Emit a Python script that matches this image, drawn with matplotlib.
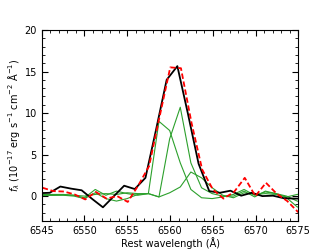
import matplotlib
matplotlib.use('Agg')
import matplotlib.pyplot as plt
from matplotlib.ticker import MultipleLocator
import numpy as np

# observed spectrum (black)
wave_obs = [6544.70, 6545.94, 6547.18, 6548.43, 6549.67, 6550.91, 6552.16, 6553.40,
            6554.64, 6555.88, 6557.13, 6558.37, 6559.61, 6560.86, 6562.10, 6563.34,
            6564.59, 6565.83, 6567.07, 6568.32, 6569.56, 6570.80, 6572.04, 6573.29,
            6574.53, 6575.77]
flux_obs = [0.35, 0.4, 1.15, 0.9, 0.7, -0.35, -1.35, -0.05,
            1.25, 0.85, 2.2, 8.0, 14.0, 15.65, 9.9, 3.9,
            0.6, 0.4, 0.65, 0.05, 0.4, 0.0, 0.05, -0.25,
            -0.3, -0.3]

# model (red dashed)
wave_mod = [6545.12, 6546.36, 6547.60, 6548.85, 6550.09, 6551.33, 6552.58, 6553.82,
            6555.06, 6556.30, 6557.55, 6558.79, 6560.03, 6561.28, 6562.52, 6563.76,
            6565.01, 6566.25, 6567.49, 6568.74, 6569.98, 6571.22, 6572.46, 6573.71,
            6574.95, 6576.19]
flux_mod = [1.0, 0.6, 0.55, 0.2, -0.4, 0.5, -0.3, 0.0,
            -0.7, 1.3, 3.6, 9.6, 15.5, 15.4, 8.8, 3.2,
            0.8, -0.3, 0.5, 2.2, 0.0, 1.6, 0.3, -0.6,
            -1.9, -2.3]

# individual components (green)
wave_cmp = [6545.04, 6546.28, 6547.53, 6548.77, 6550.01, 6551.26, 6552.50, 6553.74,
            6554.99, 6556.23, 6557.47, 6558.71, 6559.96, 6561.20, 6562.44, 6563.69,
            6564.93, 6566.17, 6567.42, 6568.66, 6569.90, 6571.15, 6572.39, 6573.63,
            6574.87, 6576.12]
comp_a = [0.2, 0.2, 0.2, 0.1, -0.2, 0.8, 0.1, 0.6,
          0.3, 0.1, 0.3, 9.0, 7.9, 4.0, 0.8, -0.2,
          -0.3, -0.1, 0.2, 0.8, 0.1, 0.5, 0.3, -0.2,
          -1.3, -1.6]
comp_b = [0.1, 0.1, 0.1, 0.0, -0.3, 0.4, -0.3, -0.6,
          -0.3, 0.2, 0.3, -0.1, 6.9, 10.7, 4.0, 1.0,
          0.3, 0.0, 0.0, 0.6, -0.1, 0.6, 0.3, 0.0,
          -0.6, -0.9]
comp_c = [0.1, 0.1, 0.15, 0.1, 0.0, 0.2, 0.3, 0.2,
          0.4, 0.3, 0.3, -0.1, 0.4, 1.1, 2.9, 2.2,
          1.0, 0.1, -0.2, 0.4, 0.2, 0.3, 0.2, -0.1,
          0.2, 0.3]

fig = plt.figure(figsize=(3.32, 2.49), dpi=100)
ax = fig.add_axes([0.1256, 0.1124, 0.7729, 0.7671])

for c in (comp_a, comp_b, comp_c):
    ax.plot(wave_cmp, c, color='#2ca02c', lw=0.8)
ax.plot(wave_obs, flux_obs, color='black', lw=1.3)
ax.plot(wave_mod, flux_mod, color='red', lw=1.3, ls=(0, (3, 1.5)))

ax.set_xlim(6545, 6575)
ax.set_ylim(-3, 20)
ax.xaxis.set_major_locator(MultipleLocator(5))
ax.xaxis.set_minor_locator(MultipleLocator(1))
ax.yaxis.set_major_locator(MultipleLocator(5))
ax.yaxis.set_minor_locator(MultipleLocator(1))
ax.tick_params(which='both', direction='in', top=True, right=True, labelsize=7)
ax.tick_params(which='major', length=4)
ax.tick_params(which='minor', length=2)

ax.set_xlabel('Rest wavelength (Å)', fontsize=7, labelpad=1)
ax.set_ylabel(r'$f_\lambda$ ($10^{-17}$ erg s$^{-1}$ cm$^{-2}$ Å$^{-1}$)', fontsize=7, labelpad=2)

plt.savefig('out.png', dpi=100)
